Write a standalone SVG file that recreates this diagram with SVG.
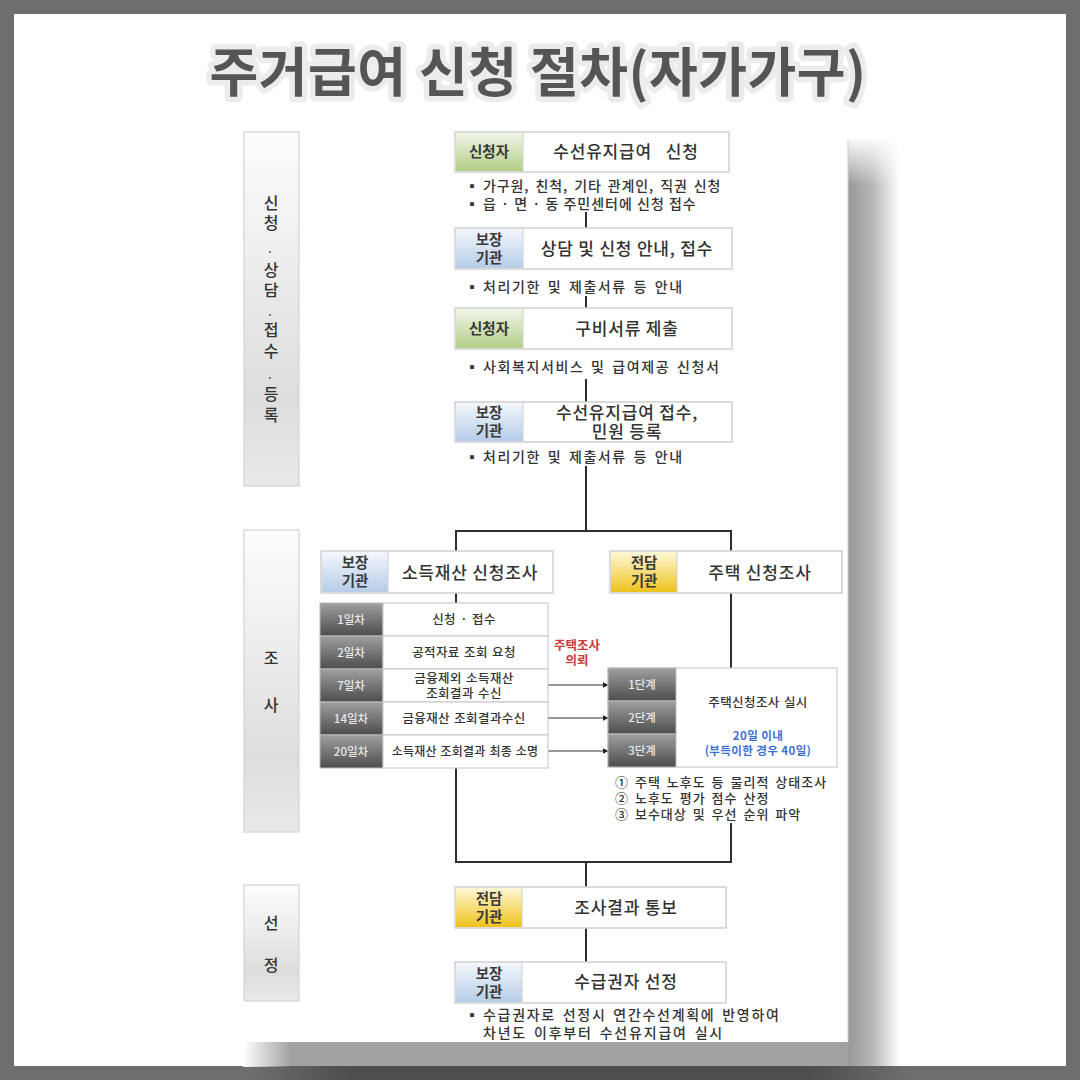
<svg xmlns="http://www.w3.org/2000/svg" width="1080" height="1080" viewBox="0 0 1080 1080">
<defs>
  <linearGradient id="gBar" x1="0" y1="0" x2="0" y2="1">
    <stop offset="0" stop-color="#fdfdfd"/>
    <stop offset="0.75" stop-color="#dddddd"/>
    <stop offset="1" stop-color="#e9e9e9"/>
  </linearGradient>
  <linearGradient id="gGreen" x1="0" y1="0" x2="0" y2="1">
    <stop offset="0" stop-color="#f1f6e8"/>
    <stop offset="1" stop-color="#b3cd88"/>
  </linearGradient>
  <linearGradient id="gBlue" x1="0" y1="0" x2="0" y2="1">
    <stop offset="0" stop-color="#f4f7fc"/>
    <stop offset="1" stop-color="#b6cce8"/>
  </linearGradient>
  <linearGradient id="gYellow" x1="0" y1="0" x2="0" y2="1">
    <stop offset="0" stop-color="#fff8d8"/>
    <stop offset="1" stop-color="#eec21c"/>
  </linearGradient>
  <linearGradient id="gDark" x1="0" y1="0" x2="0" y2="1">
    <stop offset="0" stop-color="#a0a0a0"/>
    <stop offset="1" stop-color="#4c4c4c"/>
  </linearGradient>
  <linearGradient id="gShadowR" x1="0" y1="0" x2="1" y2="0">
    <stop offset="0" stop-color="#989898"/>
    <stop offset="0.45" stop-color="#b4b4b4"/>
    <stop offset="1" stop-color="#ffffff"/>
  </linearGradient>
  <linearGradient id="gShadowTop" x1="0" y1="0" x2="0" y2="1">
    <stop offset="0" stop-color="#ffffff" stop-opacity="1"/>
    <stop offset="1" stop-color="#ffffff" stop-opacity="0"/>
  </linearGradient>
  <linearGradient id="gShadowL" x1="0" y1="0" x2="1" y2="0">
    <stop offset="0" stop-color="#ffffff" stop-opacity="1"/>
    <stop offset="1" stop-color="#ffffff" stop-opacity="0"/>
  </linearGradient>
  <linearGradient id="gFrameDark" x1="0" y1="0" x2="1" y2="0">
    <stop offset="0" stop-color="#4e4e4e" stop-opacity="0"/>
    <stop offset="0.15" stop-color="#4e4e4e" stop-opacity="1"/>
    <stop offset="0.85" stop-color="#4e4e4e" stop-opacity="1"/>
    <stop offset="1" stop-color="#4e4e4e" stop-opacity="0"/>
  </linearGradient>
  <marker id="arr" viewBox="0 0 10 10" refX="9" refY="5" markerWidth="6" markerHeight="6" orient="auto" markerUnits="userSpaceOnUse">
    <path d="M0,0 L10,5 L0,10 z" fill="#222"/>
  </marker>
  <style>
    text { font-family: "Noto Sans CJK KR", "Noto Sans", sans-serif; fill: #333; }
    .title { font-size: 53px; font-weight: 700; letter-spacing: 0.5px; fill: #555; stroke: #ececec; stroke-width: 11px; stroke-linejoin: round; paint-order: stroke; }
    .bar { fill: url(#gBar); stroke: #d2d2d2; stroke-width: 1.2; }
    .barTxt { font-size: 16px; font-weight: 500; text-anchor: middle; fill: #333; }
    .dot { font-size: 9px; font-weight: 700; text-anchor: middle; fill: #333; }
    .box { fill: #fff; stroke: #cfcfcf; stroke-width: 1.5; }
    .sep { stroke: #cfcfcf; stroke-width: 1; }
    .lblG { fill: url(#gGreen); }
    .lblB { fill: url(#gBlue); }
    .lblY { fill: url(#gYellow); }
    .lbl { font-size: 14.5px; font-weight: 700; text-anchor: middle; fill: #3a3a3a; }
    .main { font-size: 17px; font-weight: 500; letter-spacing: 0.8px; text-anchor: middle; fill: #333; }
    .bul { font-size: 14px; font-weight: 500; letter-spacing: 1.6px; word-spacing: 2px; fill: #333; }
    .circ { font-size: 13px; font-weight: 500; letter-spacing: 1px; word-spacing: 2px; fill: #333; }
    .cell { fill: #fff; stroke: #c4c4c4; stroke-width: 1; }
    .dark { fill: url(#gDark); stroke: #bbb; stroke-width: 1; }
    .darkTxt { font-size: 11.5px; font-weight: 500; text-anchor: middle; fill: #e8e8e8; }
    .cellTxt { font-size: 12.5px; font-weight: 500; letter-spacing: 0.4px; word-spacing: 1px; text-anchor: middle; fill: #333; }
    .red { font-size: 12.5px; font-weight: 700; text-anchor: middle; fill: #cc3a3a; }
    .blue { font-size: 11.5px; font-weight: 700; letter-spacing: 0.4px; text-anchor: middle; fill: #3d6fd6; }
    .line { fill: none; stroke: #2e2e2e; stroke-width: 2; }
    .thin { fill: none; stroke: #333; stroke-width: 1.2; }
  </style>
</defs>

<!-- frame -->
<rect x="0" y="0" width="1080" height="1080" fill="#6e6e6e"/>
<rect x="14" y="14" width="1052" height="1052" fill="#ffffff"/>
<rect x="250" y="1066" width="660" height="14" fill="url(#gFrameDark)"/>

<!-- panel shadow -->
<g id="shadow">
  <rect x="848" y="138" width="52" height="928" fill="url(#gShadowR)"/>
  <rect x="848" y="136" width="54" height="50" fill="url(#gShadowTop)"/>
  <rect x="243" y="1042" width="605" height="24" fill="#a2a2a2"/>
  <rect x="243" y="1040" width="48" height="27" fill="url(#gShadowL)"/>
  <line x1="848" y1="140" x2="848" y2="1042" stroke="#cfcfcf" stroke-width="1"/>
</g>

<!-- title -->
<text class="title" x="538" y="92" text-anchor="middle">주거급여 신청 절차(자가가구)</text>

<!-- category bars -->
<g id="cat-apply">
  <rect class="bar" x="244" y="132" width="55" height="354"/>
  <text class="barTxt" x="271" y="209">신</text>
  <text class="barTxt" x="271" y="229">청</text>
  <text class="dot" x="270" y="255">·</text>
  <text class="barTxt" x="271" y="276">상</text>
  <text class="barTxt" x="271" y="296">담</text>
  <text class="dot" x="270" y="318">·</text>
  <text class="barTxt" x="271" y="336">접</text>
  <text class="barTxt" x="271" y="357">수</text>
  <text class="dot" x="270" y="381">·</text>
  <text class="barTxt" x="271" y="400">등</text>
  <text class="barTxt" x="271" y="421">록</text>
</g>
<g id="cat-survey">
  <rect class="bar" x="244" y="530" width="55" height="302"/>
  <text class="barTxt" x="271" y="664">조</text>
  <text class="barTxt" x="271" y="711">사</text>
</g>
<g id="cat-select">
  <rect class="bar" x="244" y="885" width="55" height="116"/>
  <text class="barTxt" x="271" y="929">선</text>
  <text class="barTxt" x="271" y="971">정</text>
</g>

<!-- connectors -->
<g id="connectors">
  <line class="line" x1="586" y1="212" x2="586" y2="228"/>
  <line class="line" x1="586" y1="296" x2="586" y2="308"/>
  <line class="line" x1="586" y1="379" x2="586" y2="402"/>
  <path class="line" d="M586,466 V531 M456,551 V531 H731 V551"/>
  <line class="line" x1="456" y1="593" x2="456" y2="603"/>
  <line class="line" x1="731" y1="593" x2="731" y2="668"/>
  <path class="line" d="M456,768 V862 H731 V823 M586,862 V887"/>
  <line class="line" x1="586" y1="928" x2="586" y2="962"/>
  <line class="thin" x1="548" y1="685" x2="608" y2="685" marker-end="url(#arr)"/>
  <line class="thin" x1="548" y1="718" x2="608" y2="718" marker-end="url(#arr)"/>
  <line class="thin" x1="548" y1="751" x2="608" y2="751" marker-end="url(#arr)"/>
</g>

<!-- step 1 -->
<g id="n-apply">
  <rect class="box" x="455" y="132" width="274" height="40"/>
  <rect class="lblG" x="456" y="133" width="67" height="38"/>
  <line class="sep" x1="523" y1="132" x2="523" y2="172"/>
  <text class="lbl" x="489" y="157">신청자</text>
  <text class="main" x="626" y="158" xml:space="preserve">수선유지급여   신청</text>
  <text class="bul" x="465" y="191">▪</text><text class="bul" x="483" y="191" style="letter-spacing:0.9px">가구원, 친척, 기타 관계인, 직권 신청</text>
  <text class="bul" x="465" y="209">▪</text><text class="bul" x="483" y="209" style="letter-spacing:1px;word-spacing:0">읍 · 면 · 동 주민센터에 신청 접수</text>
</g>

<!-- step 2 -->
<g id="n-consult">
  <rect class="box" x="455" y="228" width="277" height="41"/>
  <rect class="lblB" x="456" y="229" width="67" height="39"/>
  <line class="sep" x1="523" y1="228" x2="523" y2="269"/>
  <text class="lbl" x="489" y="245">보장</text>
  <text class="lbl" x="489" y="263">기관</text>
  <text class="main" x="627" y="255">상담 및 신청 안내, 접수</text>
  <text class="bul" x="465" y="292">▪</text><text class="bul" x="483" y="292">처리기한 및 제출서류 등 안내</text>
</g>

<!-- step 3 -->
<g id="n-submit">
  <rect class="box" x="455" y="308" width="277" height="41"/>
  <rect class="lblG" x="456" y="309" width="67" height="39"/>
  <line class="sep" x1="523" y1="308" x2="523" y2="349"/>
  <text class="lbl" x="489" y="334">신청자</text>
  <text class="main" x="627" y="335">구비서류 제출</text>
  <text class="bul" x="465" y="372">▪</text><text class="bul" x="483" y="372">사회복지서비스 및 급여제공 신청서</text>
</g>

<!-- step 4 -->
<g id="n-register">
  <rect class="box" x="455" y="402" width="277" height="40"/>
  <rect class="lblB" x="456" y="403" width="67" height="38"/>
  <line class="sep" x1="523" y1="402" x2="523" y2="442"/>
  <text class="lbl" x="489" y="418">보장</text>
  <text class="lbl" x="489" y="436">기관</text>
  <text class="main" x="627" y="419">수선유지급여 접수,</text>
  <text class="main" x="627" y="438">민원 등록</text>
  <text class="bul" x="465" y="462">▪</text><text class="bul" x="483" y="462">처리기한 및 제출서류 등 안내</text>
</g>

<!-- income/property survey -->
<g id="n-income">
  <rect class="box" x="321" y="551" width="232" height="42"/>
  <rect class="lblB" x="322" y="552" width="66" height="40"/>
  <line class="sep" x1="388" y1="551" x2="388" y2="593"/>
  <text class="lbl" x="355" y="568">보장</text>
  <text class="lbl" x="355" y="586">기관</text>
  <text class="main" x="470" y="579">소득재산 신청조사</text>
</g>

<!-- housing survey -->
<g id="n-housing">
  <rect class="box" x="610" y="551" width="232" height="42"/>
  <rect class="lblY" x="611" y="552" width="66" height="40"/>
  <line class="sep" x1="677" y1="551" x2="677" y2="593"/>
  <text class="lbl" x="644" y="568">전담</text>
  <text class="lbl" x="644" y="586">기관</text>
  <text class="main" x="760" y="579">주택 신청조사</text>
</g>

<!-- income timeline table -->
<g id="n-income-table">
  <rect class="dark" x="320" y="603" width="63" height="33"/>
  <rect class="dark" x="320" y="636" width="63" height="33"/>
  <rect class="dark" x="320" y="669" width="63" height="33"/>
  <rect class="dark" x="320" y="702" width="63" height="33"/>
  <rect class="dark" x="320" y="735" width="63" height="33"/>
  <rect class="cell" x="383" y="603" width="165" height="33"/>
  <rect class="cell" x="383" y="636" width="165" height="33"/>
  <rect class="cell" x="383" y="669" width="165" height="33"/>
  <rect class="cell" x="383" y="702" width="165" height="33"/>
  <rect class="cell" x="383" y="735" width="165" height="33"/>
  <text class="darkTxt" x="351" y="624">1일차</text>
  <text class="darkTxt" x="351" y="657">2일차</text>
  <text class="darkTxt" x="351" y="690">7일차</text>
  <text class="darkTxt" x="351" y="723">14일차</text>
  <text class="darkTxt" x="351" y="756">20일차</text>
  <text class="cellTxt" x="464" y="624">신청 · 접수</text>
  <text class="cellTxt" x="464" y="657">공적자료 조회 요청</text>
  <text class="cellTxt" x="464" y="683">금융제외 소득재산</text>
  <text class="cellTxt" x="464" y="698">조회결과 수신</text>
  <text class="cellTxt" x="464" y="723">금융재산 조회결과수신</text>
  <text class="cellTxt" x="465" y="756" style="font-size:12px;letter-spacing:0.2px">소득재산 조회결과 최종 소명</text>
</g>

<!-- request label -->
<g id="n-request">
  <text class="red" x="577" y="650">주택조사</text>
  <text class="red" x="577" y="665">의뢰</text>
</g>

<!-- housing survey table -->
<g id="n-housing-table">
  <rect class="cell" x="608" y="668" width="229" height="99"/>
  <rect class="dark" x="608" y="668" width="68" height="33"/>
  <rect class="dark" x="608" y="701" width="68" height="33"/>
  <rect class="dark" x="608" y="734" width="68" height="33"/>
  <text class="darkTxt" x="642" y="689">1단계</text>
  <text class="darkTxt" x="642" y="722">2단계</text>
  <text class="darkTxt" x="642" y="755">3단계</text>
  <text class="cellTxt" x="758" y="707">주택신청조사 실시</text>
  <text class="blue" x="758" y="740">20일 이내</text>
  <text class="blue" x="758" y="755">(부득이한 경우 40일)</text>
  <text class="circ" x="615" y="787">① 주택 노후도 등 물리적 상태조사</text>
  <text class="circ" x="615" y="803">② 노후도 평가 점수 산정</text>
  <text class="circ" x="615" y="819">③ 보수대상 및 우선 순위 파악</text>
</g>

<!-- result notice -->
<g id="n-notice">
  <rect class="box" x="455" y="887" width="271" height="41"/>
  <rect class="lblY" x="456" y="888" width="66" height="39"/>
  <line class="sep" x1="522" y1="887" x2="522" y2="928"/>
  <text class="lbl" x="489" y="904">전담</text>
  <text class="lbl" x="489" y="922">기관</text>
  <text class="main" x="626" y="914">조사결과 통보</text>
</g>

<!-- recipient selection -->
<g id="n-select">
  <rect class="box" x="455" y="962" width="271" height="41"/>
  <rect class="lblB" x="456" y="963" width="66" height="39"/>
  <line class="sep" x1="522" y1="962" x2="522" y2="1003"/>
  <text class="lbl" x="489" y="979">보장</text>
  <text class="lbl" x="489" y="997">기관</text>
  <text class="main" x="626" y="988">수급권자 선정</text>
  <text class="bul" x="465" y="1020">▪</text><text class="bul" x="483" y="1020" style="letter-spacing:1.7px">수급권자로 선정시 연간수선계획에 반영하여</text>
  <text class="bul" x="483" y="1038" style="letter-spacing:1.8px">차년도 이후부터 수선유지급여 실시</text>
</g>
</svg>
